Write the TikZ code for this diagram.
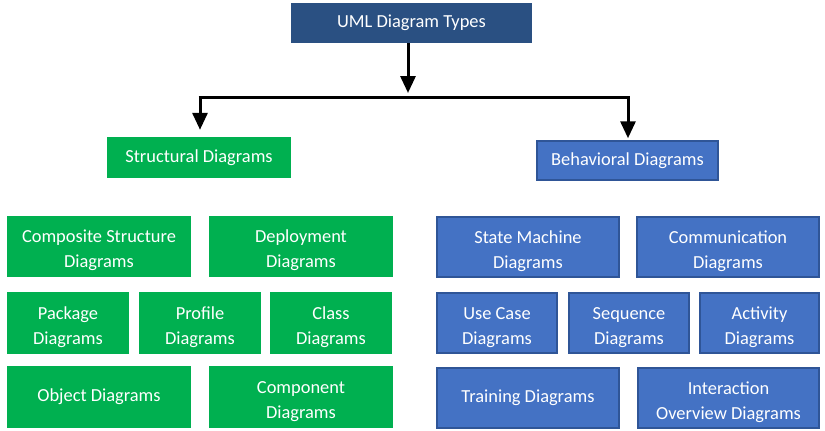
\documentclass[tikz,border=0pt]{standalone}
\usepackage{fontspec}
\setmainfont{Carlito}
\usetikzlibrary{arrows.meta}
\definecolor{topblue}{HTML}{2A5082}
\definecolor{umlgreen}{HTML}{00B050}
\definecolor{umlblue}{HTML}{4472C4}
\definecolor{umlblueedge}{HTML}{2F5597}
\newcommand{\tup}{\rule{0pt}{21pt}}
\tikzset{
  basebox/.style={inner sep=0pt, text=white, align=center, font=\fontsize{18.4}{25}\selectfont},
  gbox/.style={basebox, fill=umlgreen},
  bbox/.style={basebox, fill=umlblue, draw=umlblueedge, line width=1.5pt},
  arr/.style={line width=3pt, -{Triangle[width=15pt,length=17pt]}},
  ln/.style={line width=3pt}
}
% box by pixel corners: x1,y1,x2,y2
\newcommand{\pbox}[7]{%
  \node[#1, minimum width={(#5-#3)*1pt}, minimum height={(#6-#4)*1pt}] (#2) at ({(#3+#5)/2*1pt},{-(#4+#6)/2*1pt}) {#7};}
\begin{document}
\begin{tikzpicture}
\useasboundingbox (0,0) rectangle (825pt,-431pt);
\pbox{basebox,fill=topblue}{top}{291}{3}{532}{43}{UML Diagram Types}
\pbox{gbox}{struct}{107}{137}{291}{178}{Structural Diagrams}
\pbox{bbox}{behav}{537}{141}{718}{180}{Behavioral Diagrams}
% green
\pbox{gbox}{comp}{7}{216}{191}{277}{\tup Composite Structure\\Diagrams}
\pbox{gbox}{depl}{209}{216}{393}{277}{\tup Deployment\\Diagrams}
\pbox{gbox}{pack}{7}{292}{129}{354}{\tup Package\\Diagrams}
\pbox{gbox}{prof}{139}{292}{261}{354}{\tup Profile\\Diagrams}
\pbox{gbox}{class}{270}{292}{392}{354}{\tup Class\\Diagrams}
\pbox{gbox}{obj}{7}{366}{191}{428}{Object Diagrams}
\pbox{gbox}{compo}{209}{366}{393}{428}{\tup Component\\Diagrams}
% blue
\pbox{bbox}{state}{437}{217}{619}{277}{\tup State Machine\\Diagrams}
\pbox{bbox}{comm}{637}{217}{819}{277}{\tup Communication\\Diagrams}
\pbox{bbox}{usec}{437}{293}{557}{353}{\tup Use Case\\Diagrams}
\pbox{bbox}{seq}{569}{293}{689}{353}{\tup Sequence\\Diagrams}
\pbox{bbox}{act}{700}{293}{819}{353}{\tup Activity\\Diagrams}
\pbox{bbox}{train}{437}{368}{619}{428}{Training Diagrams}
\pbox{bbox}{inter}{638}{368}{819}{428}{\tup Interaction\\Overview Diagrams}
% connectors
\coordinate (jl) at (200pt,-97pt);
\coordinate (jr) at (628pt,-97pt);
\coordinate (jm) at (408pt,-97pt);
\draw[arr, shorten >=4pt] (top.south -| jm) -- (jm);
\draw[ln] ([xshift=-1.5pt]jl) -- ([xshift=1.5pt]jr);
\draw[arr, shorten >=7pt] (jl) -- (jl |- struct.north);
\draw[arr, shorten >=2pt] (jr) -- (jr |- behav.north);
\end{tikzpicture}
\end{document}
